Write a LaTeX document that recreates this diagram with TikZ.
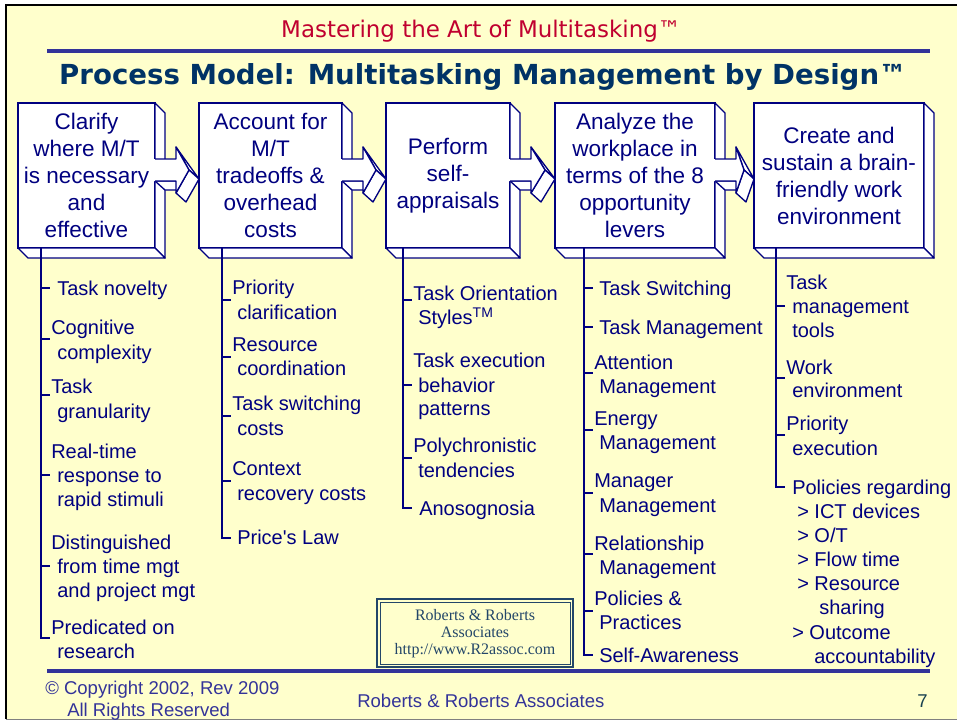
\documentclass[tikz,border=0pt]{standalone}
\usepackage{fontspec}
\setmainfont{Liberation Sans}
\newfontfamily\headfont{DejaVu Sans}
\newfontfamily\timesfont{Liberation Serif}
\usetikzlibrary{calc}

\definecolor{pagebg}{RGB}{255,255,204}
\definecolor{navy}{RGB}{0,0,128}
\definecolor{titleblue}{RGB}{0,51,102}
\definecolor{headred}{RGB}{192,0,48}
\definecolor{rulecol}{RGB}{51,51,153}
\definecolor{slate}{RGB}{35,70,105}
\definecolor{pagenum}{RGB}{25,65,80}

\tikzset{
  face/.style={fill=white, draw=navy, line width=1pt, line join=round},
  edge/.style={draw=navy, line width=1pt, line join=round},
  procbox/.style={draw=navy, fill=white, line width=1pt, inner sep=0pt, outer sep=0pt,
    text=navy, align=center, font=\fontsize{16.9pt}{20.25pt}\selectfont},
  item/.style={anchor=base west, inner sep=0pt, text=navy, font=\fontsize{15pt}{18pt}\selectfont},
  bracket/.style={draw=navy, line width=1pt},
  foot/.style={anchor=base west, inner sep=0pt, text=rulecol, font=\fontsize{13.9pt}{16pt}\selectfont},
}

% a process step: front face plus the visible right and bottom sides
\newcommand\procbox[4]{%
  \node[procbox, minimum width={(#3-#2)*0.75pt}, minimum height={145*0.75pt}] (#1) at ({(#2+#3)/2},175.5) {#4};
  \filldraw[face] (#1.north east) -- ++(10,10) -- ($(#1.south east)+(10,10)$) -- (#1.south east) -- cycle;
  \filldraw[face] (#1.south west) -- ++(10,10) -- ($(#1.south east)+(10,10)$) -- (#1.south east) -- cycle;
}

% a solid block arrow leading from one step into the next
\newcommand\procarrow[2]{%
  \filldraw[face] ($(#1.east)+(0,5.5)$) -- ($(#1.east)+(21,5.5)$) -- ($(#1.east)+(31,14.5)$) -- ($(#1.east)+(10,14.5)$) -- cycle;
  \filldraw[face] ($(#1.east)+(21,-28.5)$) -- ($(#2.west)+(-10,-5.5)$) -- ($(#2.west)+(0,3.5)$) -- cycle;
  \filldraw[face] ($(#2.west)+(-10,-5.5)$) -- ($(#2.west)+(0,3.5)$) -- ($(#1.east)+(31,26.5)$) -- ($(#1.east)+(21,17.5)$) -- cycle;
  \fill[white] ($(#1.east)+(-1,-16.5)$) -- ($(#1.east)+(21,-16.5)$) -- ($(#1.east)+(21,-28.5)$)
     -- ($(#2.west)+(-10,-5.5)$) -- ($(#1.east)+(21,17.5)$) -- ($(#1.east)+(21,5.5)$) -- ($(#1.east)+(-1,5.5)$) -- cycle;
  \draw[edge] ($(#1.east)+(0,-16.5)$) -- ($(#1.east)+(21,-16.5)$) -- ($(#1.east)+(21,-28.5)$)
     -- ($(#2.west)+(-10,-5.5)$) -- ($(#1.east)+(21,17.5)$) -- ($(#1.east)+(21,5.5)$) -- ($(#1.east)+(0,5.5)$);
}

% the bracket hanging below a step: spine, ticks and closing foot
\newcommand\bracketcol[4]{%
  \coordinate (#1-top) at (#2,248);
  \coordinate (#1-end) at (#2,#4);
  \draw[bracket] (#1-top) -- (#1-end) -- ++(9,0);
  \foreach \ty in {#3} \draw[bracket] (#2,\ty) -- ++(9,0);
}

\begin{document}
\begin{tikzpicture}[x=0.75pt,y=-0.75pt]
\useasboundingbox (0,0) rectangle (957,721);
\fill[white] (0,0) rectangle (957,721);
\fill[pagebg] (6,5) rectangle (957,719);
\draw[black, line width=1.5pt] (6,719) -- (6,5) -- (957,5);
\draw[gray, line width=1pt] (6,719.5) -- (957,719.5);

% rules
\draw[rulecol, line width=3pt] (47,51) -- (930,51);
\draw[rulecol, line width=3pt] (47,671) -- (930,671);

% headings
\node[anchor=base, inner sep=0pt, text=headred, font=\headfont\fontsize{17.2pt}{20pt}\selectfont] (head) at (481,37) {Mastering the Art of Multitasking™};
\node[anchor=base, inner sep=0pt, text=titleblue, font=\headfont\bfseries\fontsize{20.7pt}{24pt}\selectfont] (title) at (483,84) {Process Model: Multitasking Management by Design™};

% process steps
\procbox{b1}{18}{155}{Clarify\\where M/T\\is necessary\\and\\effective}
\procbox{b2}{199}{342}{Account for\\M/T\\tradeoffs \&\\overhead\\costs}
\procbox{b3}{386}{510}{Perform\\self-\\appraisals}
\procbox{b4}{555}{715}{Analyze the\\workplace in\\terms of the 8\\opportunity\\levers}
\procbox{b5}{754}{924}{Create and\\sustain a brain-\\friendly work\\environment}

\procarrow{b1}{b2}
\procarrow{b2}{b3}
\procarrow{b3}{b4}
\procarrow{b4}{b5}

% brackets
\bracketcol{k1}{41}{288,339,395,475,566}{638}
\bracketcol{k2}{222}{300,357,416,481}{538}
\bracketcol{k3}{403}{300,385,458}{508}
\bracketcol{k4}{584}{288,327,373,430,493,554,611}{655}
\bracketcol{k5}{776}{306,378,435}{487}

% bracket entries
\foreach \x/\y/\txt [count=\i] in {
  57/295/{Task novelty}, 51/334/{Cognitive}, 57/359/{complexity},
  51/393/{Task}, 57/418/{granularity},
  51/458/{Real-time}, 57/482/{response to}, 57/506/{rapid stimuli},
  51/549/{Distinguished}, 57/573/{from time mgt}, 57/597/{and project mgt},
  51/634/{Predicated on}, 57/658/{research}}
  \node[item] (e1-\i) at (\x,\y) {\txt};

\foreach \x/\y/\txt [count=\i] in {
  232/294/{Priority}, 237/319/{clarification},
  232/351/{Resource}, 237/375/{coordination},
  232/410/{Task switching}, 237/435/{costs},
  232/475/{Context}, 237/500/{recovery costs},
  237/544/{Price\textquotesingle s Law}}
  \node[item] (e2-\i) at (\x,\y) {\txt};

\foreach \x/\y/\txt [count=\i] in {
  413/300/{Task Orientation}, 418/324/{Styles\textsuperscript{TM}},
  413/367/{Task execution}, 418/392/{behavior}, 418/415/{patterns},
  413/452/{Polychronistic}, 418/477/{tendencies},
  419/515/{Anosognosia}}
  \node[item] (e3-\i) at (\x,\y) {\txt};

\foreach \x/\y/\txt [count=\i] in {
  599/295/{Task Switching}, 599/334/{Task Management},
  594/369/{Attention}, 599/393/{Management},
  594/425/{Energy}, 599/449/{Management},
  594/487/{Manager}, 599/512/{Management},
  594/550/{Relationship}, 599/574/{Management},
  594/605/{Policies \&}, 599/629/{Practices},
  599/662/{Self-Awareness}}
  \node[item] (e4-\i) at (\x,\y) {\txt};

\foreach \x/\y/\txt [count=\i] in {
  786/289/{Task}, 792/313/{management}, 792/337/{tools},
  786/374/{Work}, 792/397/{environment},
  786/430/{Priority}, 792/455/{execution},
  792/494/{Policies regarding}, 797/518/{> ICT devices}, 797/542/{> O/T},
  797/566/{> Flow time}, 797/590/{> Resource}, 819/614/{sharing},
  792/639/{> Outcome}, 814/663/{accountability}}
  \node[item] (e5-\i) at (\x,\y) {\txt};

% publisher stamp
\node[draw=slate, line width=1.5pt, fill=pagebg, minimum width={196*0.75pt}, minimum height={68*0.75pt}, inner sep=0pt] (stamp) at (475,633) {};
\draw[slate, line width=0.75pt] ($(stamp.north west)+(4,4)$) rectangle ($(stamp.south east)+(-4,-4)$);
\node[anchor=base, inner sep=0pt, text=slate, font=\timesfont\fontsize{12pt}{13pt}\selectfont] (s1) at (475,620) {Roberts \& Roberts};
\node[anchor=base, inner sep=0pt, text=slate, font=\timesfont\fontsize{12pt}{13pt}\selectfont] (s2) at (475,637) {Associates};
\node[anchor=base, inner sep=0pt, text=slate, font=\timesfont\fontsize{12pt}{13pt}\selectfont] (s3) at (475,654) {http://www.R2assoc.com};

% footer
\node[foot] (f1) at (45,694) {© Copyright 2002, Rev 2009};
\node[foot] (f2) at (67,716) {All Rights Reserved};
\node[foot] (f3) at (357,707) {Roberts \& Roberts Associates};
\node[foot, text=pagenum] (f4) at (917,707) {7};
\end{tikzpicture}
\end{document}
